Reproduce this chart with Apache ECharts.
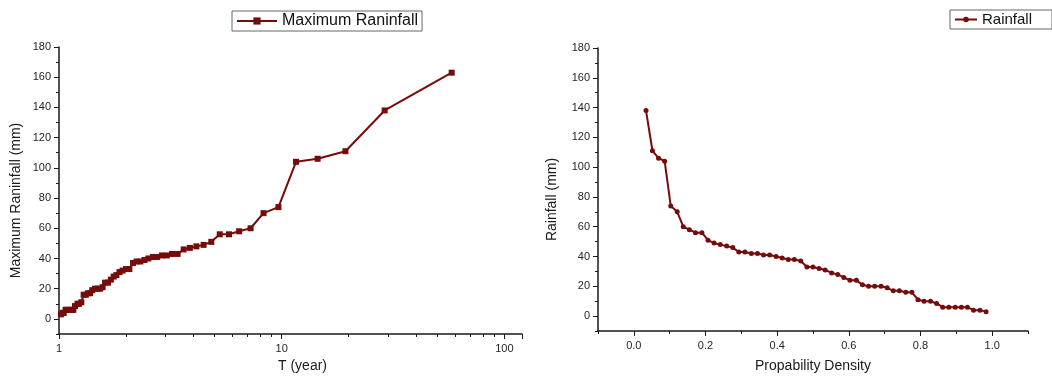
<!DOCTYPE html>
<html>
<head>
<meta charset="utf-8">
<script src="https://cdn.jsdelivr.net/npm/echarts@6/dist/echarts.min.js"></script>
<style>
  html, body { margin: 0; padding: 0; background: #fff; }
  #main { width: 1052px; height: 378px; }
</style>
</head>
<body>
<div id="main"></div>
<script>
// return period T (year) for the left chart
const returnPeriod = [58, 29, 19.33, 14.5, 11.6, 9.67, 8.29, 7.25, 6.44, 5.8, 5.27, 4.83, 4.46, 4.14,
  3.87, 3.63, 3.41, 3.22, 3.05, 2.9, 2.76, 2.64, 2.52, 2.42, 2.32, 2.23, 2.15, 2.07, 2.0, 1.93,
  1.87, 1.81, 1.76, 1.71, 1.66, 1.61, 1.57, 1.53, 1.49, 1.45, 1.41, 1.38, 1.35, 1.32, 1.29, 1.26,
  1.23, 1.21, 1.18, 1.16, 1.14, 1.12, 1.09, 1.07, 1.05, 1.04, 1.02]
const maxRainfall = [163, 138, 111, 106, 104, 74, 70, 60, 58, 56, 56, 51, 49, 48, 47, 46, 43, 43,
  42, 42, 41, 41, 40, 39, 38, 38, 37, 33, 33, 32, 31, 29, 28, 26, 24, 24, 21, 20, 20, 20, 19, 17,
  17, 16, 16, 11, 10, 10, 8.5, 6, 6, 6, 6, 6, 4, 4, 3]

// probability density for the right chart
const probability = [0.034, 0.052, 0.069, 0.086, 0.103, 0.121, 0.138, 0.155, 0.172, 0.190, 0.207,
  0.224, 0.241, 0.259, 0.276, 0.293, 0.310, 0.328, 0.345, 0.362, 0.379, 0.397, 0.414, 0.431,
  0.448, 0.466, 0.483, 0.500, 0.517, 0.534, 0.552, 0.569, 0.586, 0.603, 0.621, 0.638, 0.655,
  0.672, 0.690, 0.707, 0.724, 0.741, 0.759, 0.776, 0.793, 0.810, 0.828, 0.845, 0.862, 0.879,
  0.897, 0.914, 0.931, 0.948, 0.966, 0.983]
const rainfall = [138, 111, 106, 104, 74, 70, 60, 58, 56, 56, 51, 49, 48, 47, 46, 43, 43, 42, 42,
  41, 41, 40, 39, 38, 38, 37, 33, 33, 32, 31, 29, 28, 26, 24, 24, 21, 20, 20, 20, 19, 17, 17, 16,
  16, 11, 10, 10, 8.5, 6, 6, 6, 6, 6, 4, 4, 3]

// tick labels
const yTicks = [0, 20, 40, 60, 80, 100, 120, 140, 160, 180]
const logTicks = [1, 10, 100]
const probTicks = [0, 0.2, 0.4, 0.6, 0.8, 1.0]

const FONT = '"Liberation Sans", Arial, sans-serif'
const LINE_COLOR = '#760b0b'
const AXIS_COLOR = '#1a1a1a'

const axisLine = { show: true, onZero: false, lineStyle: { color: AXIS_COLOR, width: 1.5 } }
const labelStyle = { color: '#262626', fontSize: 11, fontFamily: FONT }
const nameStyle = { color: '#1a1a1a', fontSize: 14, fontFamily: FONT }

/** main y axis: short ticks every 10, labels every 20 */
const mainY = (gridIndex, name, gap) => ({
  type: 'value',
  gridIndex,
  position: 'left',
  min: -10,
  max: 180,
  interval: 10,
  name,
  nameLocation: 'middle',
  nameGap: gap,
  nameTextStyle: { ...nameStyle, padding: [0, 20, 0, 0] },
  axisLine,
  axisTick: { show: true, length: 3, lineStyle: { color: AXIS_COLOR } },
  axisLabel: { ...labelStyle, margin: 8, customValues: yTicks },
  splitLine: { show: false }
})

/** overlay y axis that only draws the long major ticks */
const majorY = (gridIndex) => ({
  type: 'value',
  gridIndex,
  position: 'left',
  min: -10,
  max: 180,
  axisLine: { show: false, onZero: false },
  axisTick: { show: true, length: 5, customValues: yTicks, lineStyle: { color: AXIS_COLOR } },
  axisLabel: { show: false },
  splitLine: { show: false }
})

const option = {
  animation: false,
  backgroundColor: '#fff',
  textStyle: { fontFamily: FONT },
  grid: [
    { left: 59, top: 47, width: 463, height: 287 },
    { left: 598, top: 48, width: 430, height: 285 }
  ],
  legend: [
    {
      data: ['Maximum Raninfall'],
      left: 232,
      top: 11,
      padding: [2, 4, 2, 4],
      itemWidth: 40,
      itemHeight: 9,
      itemGap: 4,
      borderColor: '#666',
      borderWidth: 1,
      textStyle: { color: '#111', fontSize: 16, fontFamily: FONT }
    },
    {
      data: ['Rainfall'],
      left: 950,
      top: 10,
      padding: [2, 20, 2, 4],
      itemWidth: 22,
      itemHeight: 7,
      itemGap: 4,
      borderColor: '#666',
      borderWidth: 1,
      textStyle: { color: '#111', fontSize: 15, fontFamily: FONT }
    }
  ],
  xAxis: [
    {
      type: 'log',
      gridIndex: 0,
      logBase: 10,
      min: 1,
      max: 120,
      name: 'T (year)',
      nameLocation: 'middle',
      nameGap: 17,
      nameTextStyle: { ...nameStyle, padding: [0, 0, 0, 24] },
      axisLine,
      axisTick: { show: true, length: 5, lineStyle: { color: AXIS_COLOR } },
      minorTick: { show: true, splitNumber: 9, length: 3, lineStyle: { color: AXIS_COLOR } },
      axisLabel: {
        ...labelStyle,
        margin: 9,
        formatter: (v) => (logTicks.includes(v) ? String(v) : '')
      },
      splitLine: { show: false },
      minorSplitLine: { show: false }
    },
    {
      type: 'value',
      gridIndex: 1,
      min: -0.1,
      max: 1.1,
      interval: 0.1,
      name: 'Propability Density',
      nameLocation: 'middle',
      nameGap: 28,
      nameTextStyle: nameStyle,
      axisLine,
      axisTick: { show: true, length: 3, lineStyle: { color: AXIS_COLOR } },
      axisLabel: {
        ...labelStyle,
        margin: 9,
        customValues: probTicks,
        formatter: (v) => v.toFixed(1)
      },
      splitLine: { show: false }
    },
    {
      type: 'value',
      gridIndex: 1,
      position: 'bottom',
      min: -0.1,
      max: 1.1,
      axisLine: { show: false, onZero: false },
      axisTick: { show: true, length: 5, customValues: probTicks, lineStyle: { color: AXIS_COLOR } },
      axisLabel: { show: false },
      splitLine: { show: false }
    }
  ],
  yAxis: [
    mainY(0, 'Maximum Raninfall (mm)', 36),
    majorY(0),
    mainY(1, 'Rainfall (mm)', 39),
    majorY(1)
  ],
  series: [
    {
      name: 'Maximum Raninfall',
      type: 'line',
      xAxisIndex: 0,
      yAxisIndex: 0,
      data: returnPeriod.map((t, i) => [t, maxRainfall[i]]),
      symbol: 'rect',
      symbolSize: 6,
      itemStyle: { color: LINE_COLOR },
      lineStyle: { color: LINE_COLOR, width: 2 }
    },
    {
      name: 'Rainfall',
      type: 'line',
      xAxisIndex: 1,
      yAxisIndex: 2,
      data: probability.map((p, i) => [p, rainfall[i]]),
      symbol: 'circle',
      symbolSize: 5,
      itemStyle: { color: LINE_COLOR },
      lineStyle: { color: LINE_COLOR, width: 2 }
    }
  ]
}

const chart = echarts.init(document.getElementById('main'), null, { renderer: 'canvas' })
chart.setOption(option)
</script>
</body>
</html>
